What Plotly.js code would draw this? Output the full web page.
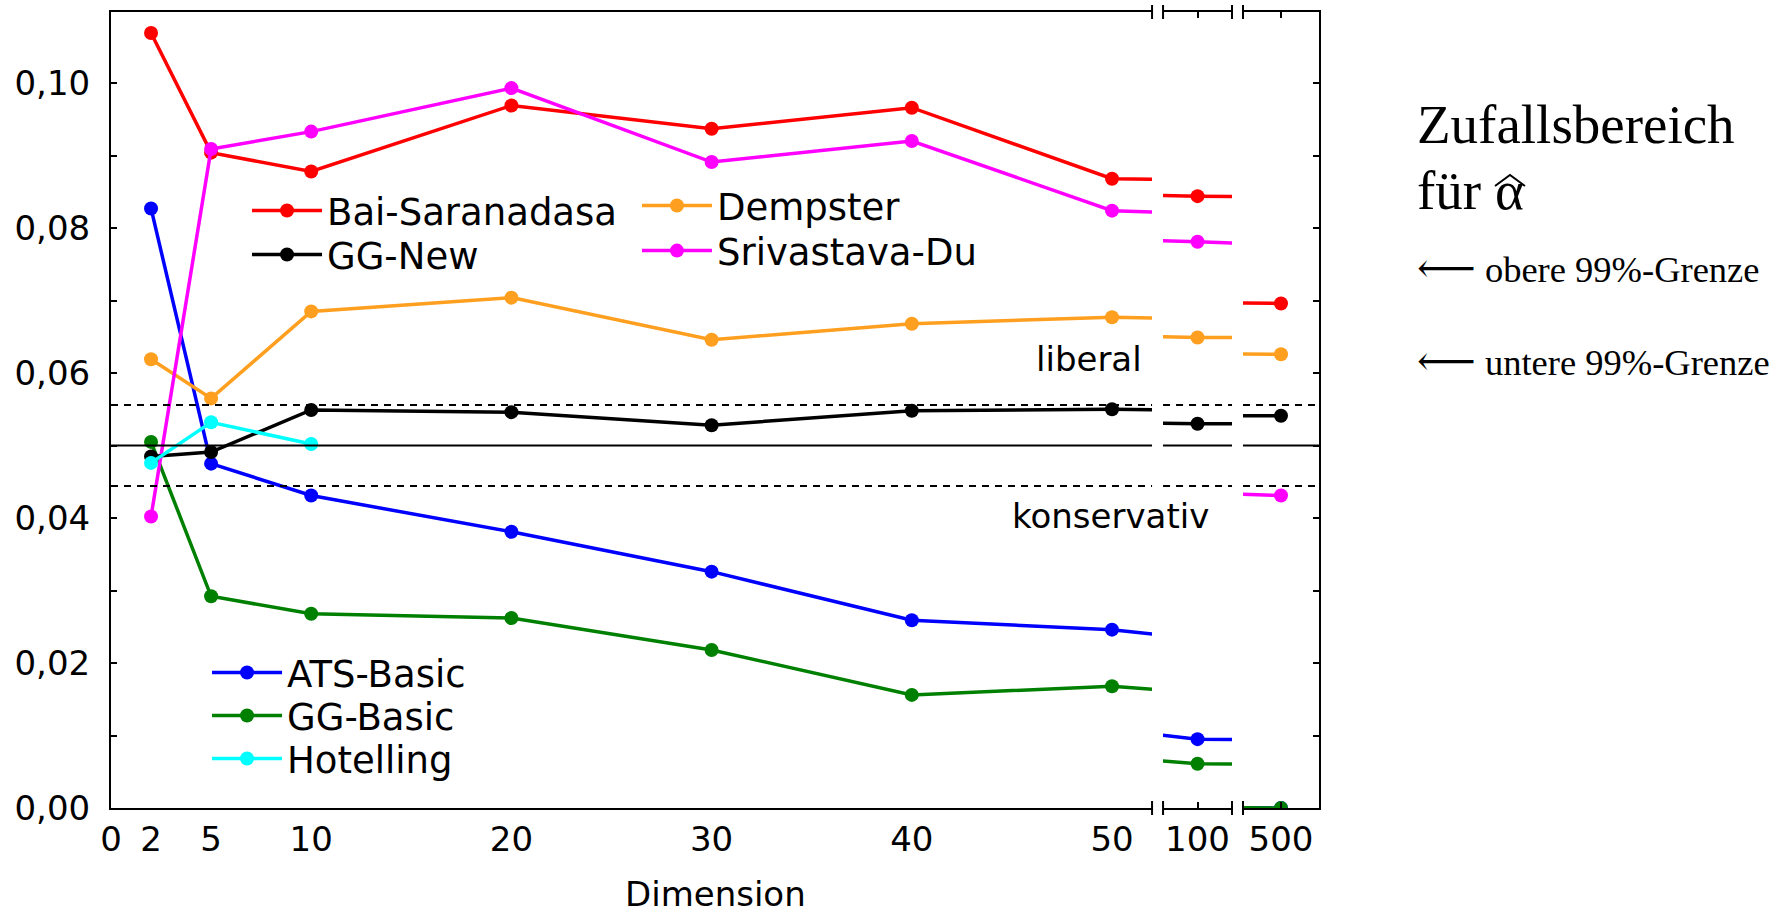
<!DOCTYPE html>
<html>
<head>
<meta charset="utf-8">
<script src="https://cdn.plot.ly/plotly-3.0.1.min.js"></script>
<style>html,body{margin:0;padding:0;background:#fff;}#chart{width:1780px;height:916px;}</style>
</head>
<body>
<div id="chart"></div>
<script>
// ---- data ----
const dims = [2, 5, 10, 20, 30, 40, 50, 100, 500];
const hotellingDims = [2, 5, 10];
const baiSaranadasa = [0.1069, 0.0904, 0.0878, 0.0969, 0.0937, 0.0966, 0.0868, 0.0844, 0.0696];
const srivastavaDu  = [0.0402, 0.0909, 0.0933, 0.0993, 0.0891, 0.0920, 0.0824, 0.0781, 0.0431];
const dempster      = [0.0619, 0.0565, 0.0685, 0.0704, 0.0646, 0.0668, 0.0677, 0.0649, 0.0626];
const ggNew         = [0.0485, 0.0491, 0.0549, 0.0546, 0.0528, 0.0548, 0.0550, 0.0530, 0.0541];
const atsBasic      = [0.0827, 0.0475, 0.0431, 0.0381, 0.0326, 0.0259, 0.0246, 0.0095, 0.0000];
const ggBasic       = [0.0505, 0.0292, 0.0268, 0.0262, 0.0218, 0.0156, 0.0168, 0.0061, 0.0000];
const hotelling     = [0.0476, 0.0532, 0.0502];
const nominalAlpha = 0.05;
const lower99 = 0.0444;
const upper99 = 0.0556;
const xTicksMain = [0, 2, 5, 10, 20, 30, 40, 50];
const xTickMarksMain = [10, 20, 30, 40];

// ---- series definitions (drawing order) ----
const series = [
  {name: 'ATS-Basic',      x: dims, y: atsBasic,      color: '#0000ff', legend: 'legend5'},
  {name: 'GG-Basic',       x: dims, y: ggBasic,       color: '#008000', legend: 'legend6'},
  {name: 'Dempster',       x: dims, y: dempster,      color: '#ff9f1f', legend: 'legend3'},
  {name: 'Bai-Saranadasa', x: dims, y: baiSaranadasa, color: '#ff0000', legend: 'legend'},
  {name: 'Srivastava-Du',  x: dims, y: srivastavaDu,  color: '#ff00ff', legend: 'legend4'},
  {name: 'GG-New',         x: dims, y: ggNew,         color: '#000000', legend: 'legend2'},
  {name: 'Hotelling',      x: hotellingDims, y: hotelling, color: '#00ffff', legend: 'legend7'}
];

const axes = ['x', 'x2', 'x3'];
const traces = [];
axes.forEach(function (ax) {
  series.forEach(function (s) {
    traces.push({
      type: 'scatter', mode: 'lines+markers',
      x: s.x, y: s.y, name: s.name,
      xaxis: ax, yaxis: 'y',
      line: {color: s.color, width: 3.5},
      marker: {color: s.color, size: 14},
      showlegend: ax === 'x',
      legend: s.legend,
      cliponaxis: true
    });
  });
});
// empty trace so the right-hand frame axis is drawn
traces.push({type: 'scatter', x: [], y: [], xaxis: 'x3', yaxis: 'y2', showlegend: false});

const yRange = [0, 0.1098];
const F = 'DejaVu Sans, Liberation Sans, Arial, sans-serif';
const SERIF = 'Liberation Serif, Times New Roman, DejaVu Serif, serif';

// reference lines per segment
const shapes = [];
['x domain', 'x2 domain', 'x3 domain'].forEach(function (xr) {
  shapes.push({type: 'line', xref: xr, yref: 'y', x0: 0, x1: 1, y0: nominalAlpha, y1: nominalAlpha,
               line: {color: '#000', width: 2}});
  [lower99, upper99].forEach(function (v) {
    shapes.push({type: 'line', xref: xr, yref: 'y', x0: 0, x1: 1, y0: v, y1: v,
                 line: {color: '#000', width: 2, dash: '7px,6px'}});
  });
});
// axis break marks
[['x domain', 1], ['x2 domain', 0], ['x2 domain', 1], ['x3 domain', 0]].forEach(function (b) {
  [0, 1].forEach(function (py) {
    shapes.push({type: 'line', xref: b[0], x0: b[1], x1: b[1], yref: 'paper',
                 ysizemode: 'pixel', yanchor: py, y0: -7, y1: 7,
                 line: {color: '#000', width: 2}});
  });
});
// wide hat over alpha in the side note
shapes.push({type: 'path', xref: 'paper', yref: 'paper',
             path: 'M1.1457,0.7814 L1.1581,0.7952 L1.1705,0.7814',
             line: {color: '#000', width: 2}});

const tickFont = {family: F, size: 34, color: '#000'};
const baseX = {
  showline: true, linecolor: '#000', linewidth: 2, mirror: 'ticks',
  ticks: 'inside', ticklen: 6, tickwidth: 2, tickcolor: '#000',
  tickfont: tickFont, showgrid: false, zeroline: false, anchor: 'y',
  tickmode: 'array', fixedrange: true
};

function leg(x, y) {
  return {x: x, y: y, xanchor: 'left', yanchor: 'middle', bgcolor: 'rgba(0,0,0,0)',
          font: {family: F, size: 37, color: '#000'}, itemwidth: 70, borderwidth: 0};
}

const layout = {
  width: 1780, height: 916,
  margin: {l: 111, r: 461, t: 12, b: 108, pad: 0},
  paper_bgcolor: '#fff', plot_bgcolor: '#fff',
  separators: ', ',
  showlegend: true,
  font: {family: F, color: '#000'},
  xaxis: Object.assign({}, baseX, {domain: [0, 0.8618], range: [0, 52],
    tickvals: xTicksMain, ticks: '', mirror: true}),
  xaxis4: Object.assign({}, baseX, {domain: [0, 0.8618], range: [0, 52], overlaying: 'x',
    tickvals: xTickMarksMain, showticklabels: false, showline: false}),
  xaxis2: Object.assign({}, baseX, {domain: [0.8709, 0.9280], range: [98.28, 101.72], tickvals: [100]}),
  xaxis3: Object.assign({}, baseX, {domain: [0.9371, 1.0], range: [498.1, 501.9], tickvals: [500]}),
  yaxis: {
    range: yRange, domain: [0, 1], anchor: 'x',
    showline: true, linecolor: '#000', linewidth: 2,
    ticks: 'inside', ticklen: 6, tickwidth: 2, tickcolor: '#000',
    tickmode: 'linear', tick0: 0, dtick: 0.02, tickformat: '.2f',
    minor: {dtick: 0.01, ticks: 'inside', ticklen: 6, tickwidth: 2, tickcolor: '#000', showgrid: false},
    tickfont: tickFont, ticklabelstandoff: 12,
    showgrid: false, zeroline: false, fixedrange: true
  },
  yaxis2: {
    range: yRange, overlaying: 'y', side: 'right', anchor: 'x3',
    showline: true, linecolor: '#000', linewidth: 2,
    ticks: 'inside', ticklen: 6, tickwidth: 2, tickcolor: '#000',
    tickmode: 'linear', tick0: 0, dtick: 0.01, showticklabels: false,
    showgrid: false, zeroline: false, fixedrange: true
  },
  legend:  leg(0.1126, 0.750),
  legend2: leg(0.1126, 0.6947),
  legend3: leg(0.4354, 0.7563),
  legend4: leg(0.4354, 0.6997),
  legend5: leg(0.0795, 0.1696),
  legend6: leg(0.0795, 0.1156),
  legend7: leg(0.0795, 0.0616),
  shapes: shapes,
  annotations: [
    {text: 'liberal', xref: 'paper', yref: 'y', x: 0.8551, y: 0.0620, xanchor: 'right', yanchor: 'middle',
     showarrow: false, font: {family: F, size: 34, color: '#000'}},
    {text: 'konservativ', xref: 'paper', yref: 'y', x: 0.9106, y: 0.0403, xanchor: 'right', yanchor: 'middle',
     showarrow: false, font: {family: F, size: 34, color: '#000'}},
    {text: 'Dimension', xref: 'paper', yref: 'paper', x: 0.5, y: -0.108, xanchor: 'center', yanchor: 'middle',
     showarrow: false, font: {family: F, size: 34, color: '#000'}},
    {text: 'Zufallsbereich', xref: 'paper', yref: 'paper', x: 1.0795, y: 0.859, xanchor: 'left', yanchor: 'middle',
     showarrow: false, font: {family: SERIF, size: 55, color: '#000'}},
    {text: 'für α', xref: 'paper', yref: 'paper', x: 1.0795, y: 0.776, xanchor: 'left', yanchor: 'middle',
     showarrow: false, font: {family: SERIF, size: 55, color: '#000'}},
    {text: '<span style="font-size:41px">\u27F5</span> obere 99%-Grenze', xref: 'paper', yref: 'paper', x: 1.0795, y: 0.678, xanchor: 'left', yanchor: 'middle',
     showarrow: false, font: {family: SERIF, size: 36.5, color: '#000'}},
    {text: '<span style="font-size:41px">\u27F5</span> untere 99%-Grenze', xref: 'paper', yref: 'paper', x: 1.0795, y: 0.561, xanchor: 'left', yanchor: 'middle',
     showarrow: false, font: {family: SERIF, size: 36.5, color: '#000'}}
  ]
};

Plotly.newPlot('chart', traces, layout, {staticPlot: true, displayModeBar: false});
</script>
</body>
</html>
